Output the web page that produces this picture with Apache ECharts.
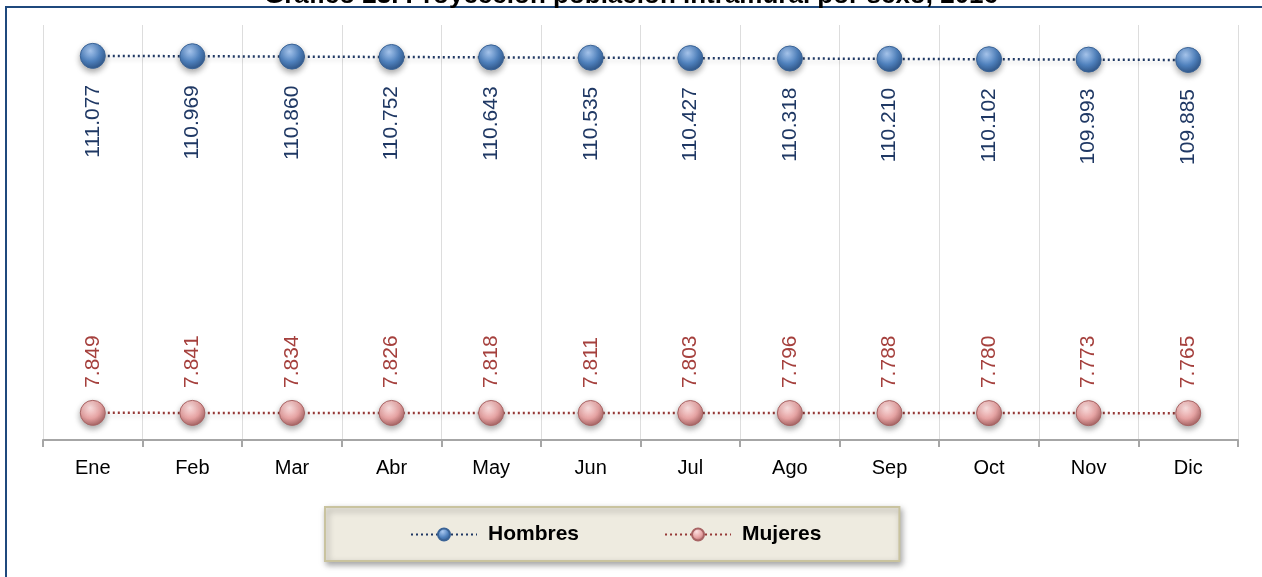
<!DOCTYPE html>
<html>
<head>
<meta charset="utf-8">
<script src="https://cdn.jsdelivr.net/npm/echarts@6/dist/echarts.min.js"></script>
<style>
  html, body { margin: 0; padding: 0; background: #fff; }
  #chart_1 { width: 1262px; height: 577px; }
</style>
</head>
<body>
<div id="chart_1"></div>
<script>
// datos del gráfico
var meses = ['Ene', 'Feb', 'Mar', 'Abr', 'May', 'Jun', 'Jul', 'Ago', 'Sep', 'Oct', 'Nov', 'Dic'];
var hombres = [111.077, 110.969, 110.860, 110.752, 110.643, 110.535, 110.427, 110.318, 110.210, 110.102, 109.993, 109.885];
var mujeres = [7.849, 7.841, 7.834, 7.826, 7.818, 7.811, 7.803, 7.796, 7.788, 7.780, 7.773, 7.765];

(function () {
    var myChart = echarts.init(document.getElementById('chart_1'));
    var fuente = 'Liberation Sans, Arial, sans-serif';

    function esfera(claro, medio, oscuro) {
        return new echarts.graphic.RadialGradient(0.4, 0.3, 0.75, [
            { offset: 0, color: claro },
            { offset: 0.55, color: medio },
            { offset: 1, color: oscuro }
        ]);
    }

    var option = {
        animation: false,
        title: {
            text: 'Gráfico 23. Proyección población intramural por sexo, 2016',
            left: 'center',
            top: -22,
            textStyle: { fontFamily: fuente, fontSize: 26, fontWeight: 'bold', color: '#000' }
        },
        graphic: [{
            type: 'rect',
            shape: { x: 6, y: 7, width: 1270, height: 600 },
            style: { fill: 'none', stroke: '#1F497D', lineWidth: 2 },
            z: -1
        }],
        legend: {
            left: 325,
            top: 507,
            padding: [17, 78, 16, 85],
            itemGap: 85,
            itemWidth: 66,
            itemHeight: 15,
            backgroundColor: '#EEEBE0',
            borderColor: '#C9C39F',
            borderWidth: 2,
            shadowBlur: 6,
            shadowColor: 'rgba(0,0,0,0.35)',
            shadowOffsetX: 2,
            shadowOffsetY: 3,
            textStyle: { fontFamily: fuente, fontSize: 21, fontWeight: 'bold', color: '#000', padding: [0, 0, 0, 6] },
            data: ['Hombres', 'Mujeres']
        },
        grid: { left: 43, right: 24, top: 25, bottom: 137 },
        xAxis: {
            type: 'category',
            data: meses,
            boundaryGap: true,
            axisLine: { lineStyle: { color: '#A6A6A6', width: 2 } },
            axisTick: { show: true, length: 7, lineStyle: { color: '#A6A6A6', width: 2 } },
            axisLabel: { fontFamily: fuente, fontSize: 20, color: '#000', margin: 18 },
            splitLine: { show: true, lineStyle: { color: '#DDDDDD', width: 1 } }
        },
        yAxis: {
            type: 'value',
            min: 0,
            max: 120,
            show: false,
            splitLine: { show: false }
        },
        series: [
            {
                name: 'Hombres',
                type: 'line',
                data: hombres,
                symbol: 'circle',
                symbolSize: 25,
                lineStyle: { color: '#1F3864', width: 2.5, type: [2, 3], shadowBlur: 4, shadowColor: 'rgba(0,0,0,0.2)', shadowOffsetY: 3 },
                itemStyle: {
                    color: esfera('#A9C8F0', '#4F81BD', '#2C5182'),
                    borderColor: '#3A6396',
                    borderWidth: 1,
                    shadowBlur: 6,
                    shadowColor: 'rgba(0,0,0,0.35)',
                    shadowOffsetY: 3
                },
                label: {
                    show: true,
                    position: 'bottom',
                    distance: 16,
                    rotate: 90,
                    align: 'right',
                    verticalAlign: 'middle',
                    fontFamily: fuente,
                    fontSize: 21,
                    color: '#1F3864',
                    formatter: function (p) { return p.value.toFixed(3); }
                }
            },
            {
                name: 'Mujeres',
                type: 'line',
                data: mujeres,
                symbol: 'circle',
                symbolSize: 25,
                lineStyle: { color: '#953735', width: 2.5, type: [2, 3], shadowBlur: 4, shadowColor: 'rgba(0,0,0,0.2)', shadowOffsetY: 3 },
                itemStyle: {
                    color: esfera('#FBE0E0', '#E6A3A3', '#9E5B5B'),
                    borderColor: '#A86464',
                    borderWidth: 1,
                    shadowBlur: 6,
                    shadowColor: 'rgba(0,0,0,0.35)',
                    shadowOffsetY: 3
                },
                label: {
                    show: true,
                    position: 'top',
                    distance: 12,
                    rotate: 90,
                    align: 'left',
                    verticalAlign: 'middle',
                    fontFamily: fuente,
                    fontSize: 21,
                    color: '#A5403D',
                    formatter: function (p) { return p.value.toFixed(3); }
                }
            }
        ]
    };
    myChart.setOption(option);
    window.addEventListener('resize', function () {
        myChart.resize();
    });
})();
</script>
</body>
</html>
